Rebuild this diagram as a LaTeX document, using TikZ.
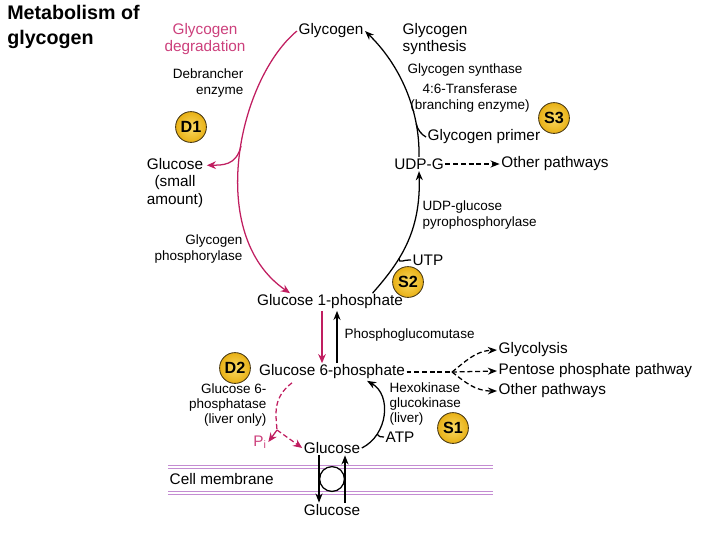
\documentclass[tikz,border=0pt]{standalone}
\usepackage{fontspec}
\setmainfont{Liberation Sans}
\usepackage{xcolor}
\usepackage{tikz}
\usetikzlibrary{arrows.meta, calc}

\definecolor{degrline}{RGB}{192,30,96}
\definecolor{degrtxt}{RGB}{204,64,124}
\definecolor{badgefill}{RGB}{232,176,20}
\definecolor{badgelight}{RGB}{250,218,100}
\definecolor{badgeedge}{RGB}{70,55,20}
\definecolor{membcol}{RGB}{196,140,210}

\begin{document}
\begin{tikzpicture}[x=0.025cm, y=-0.025cm]
	% Styles
	\tikzstyle{lbl} = [inner sep=1pt, align=center, font=\fontsize{10.9}{12.7}\selectfont]
	\tikzstyle{enz} = [inner sep=1pt, font=\fontsize{9.6}{10.8}\selectfont]
	\tikzstyle{badge} = [circle, draw=badgeedge, line width=0.6pt, inner color=badgelight, outer color=badgefill, minimum size=0.77cm, inner sep=0pt, font=\fontsize{11.5}{12}\selectfont\bfseries]
	\tikzstyle{arrow} = [line width=0.9pt,->,>={Stealth[length=6.5pt,width=5pt]}]
	\tikzstyle{degarrow} = [line width=0.9pt,->,>={Stealth[length=6.5pt,width=5.5pt]}, draw=degrline]
	\tikzstyle{dashline} = [dash pattern=on 3.5pt off 2pt]
	\tikzstyle{memb} = [draw=membcol, line width=0.6pt]

	\useasboundingbox (0,0) rectangle (720,540);

	% Title
	\node (title) [anchor=west, align=left, inner sep=0pt, font=\fontsize{14}{17.7}\selectfont\bfseries] at (7,27) {Metabolism of\\glycogen};

	% Main pathway
	\node (glycogen) [lbl] at (331,31) {Glycogen};
	\node (gonep) [lbl] at (330,302) {Glucose 1-phosphate};
	\node (gsixp) [lbl] at (332,372) {Glucose 6-phosphate};
	\node (glucose) [lbl] at (332,448) {Glucose};
	\node (glucoseout) [lbl] at (332,510) {Glucose};
	\node (udpg) [lbl] at (419,164) {UDP-G};

	% Degradation side
	\node (degr) [lbl, text=degrtxt] at (205,39) {Glycogen\\degradation};
	\node (debr) [enz, align=right, anchor=east] at (245,83) {Debrancher\\enzyme};
	\node (done) [badge] at (191,127) {D1};
	\node (glcsmall) [lbl] at (175,183) {Glucose\\(small\\amount)};
	\node (phos) [enz, align=right, anchor=east] at (244,249) {Glycogen\\phosphorylase};
	\node (dtwo) [badge] at (235,368) {D2};
	\node (gsixpase) [enz, align=right, anchor=east] at (268,405) {Glucose 6-\\phosphatase\\(liver only)};
	\node (pi) [lbl, text=degrtxt] at (260,442) {P\textsubscript{i}};

	% Synthesis side
	\node (synth) [lbl, align=left, anchor=west] at (401,39) {Glycogen\\synthesis};
	\node (gsyn) [enz, anchor=west] at (406,70) {Glycogen synthase};
	\node (transf) [enz, align=center] at (470,98) {4:6-Transferase\\(branching enzyme)};
	\node (sthree) [badge] at (554,118) {S3};
	\node (primer) [lbl, anchor=west] at (426,137) {Glycogen primer};
	\node (otherA) [lbl] at (555,164) {Other pathways};
	\node (udpgpp) [enz, align=left, anchor=west] at (421,215) {UDP-glucose\\pyrophosphorylase};
	\node (utp) [lbl] at (428,260) {UTP};
	\node (stwo) [badge] at (408,282) {S2};
	\node (mutase) [enz, anchor=west] at (343,335) {Phosphoglucomutase};
	\node (hexo) [enz, align=left, anchor=west] at (388,404) {Hexokinase\\glucokinase\\(liver)};
	\node (atp) [lbl] at (400,437) {ATP};
	\node (sone) [badge] at (453,428) {S1};
	\node (glycol) [lbl, anchor=west] at (497,350) {Glycolysis};
	\node (pentose) [lbl, anchor=west] at (497,371) {Pentose phosphate pathway};
	\node (otherB) [lbl, anchor=west] at (497,391) {Other pathways};

	% Membrane
	\node (membr) [lbl, anchor=west] at (168,479) {Cell membrane};
	\draw[memb] (168,465) -- (493,465);
	\draw[memb] (168,468) -- (493,468);
	\draw[memb] (168,491) -- (493,491);
	\draw[memb] (168,494) -- (493,494);
	\node (carrier) [circle, draw, line width=0.9pt, fill=white, minimum size=0.62cm, inner sep=0pt] at (332,479) {};

	% Degradation connections
	\draw[degarrow] (glycogen.west) .. controls (238,80) and (205,235) .. ($(gonep.north)+(-40,0)$) coordinate[pos=0.46] (brk);
	\draw[degarrow] (brk) .. controls (236,166) and (222,165) .. ($(glcsmall.north east)+(2,9)$);
	\draw[degarrow] ($(gonep.south)+(-8,0)$) -- ($(gsixp.north)+(-10,0)$);
	\coordinate (pisplit) at (277,430);
	\draw[degrline, line width=0.9pt, dashline] ($(gsixp.south)+(-40,2)$) .. controls (272,398) and (276,415) .. (pisplit);
	\draw[degarrow] (pisplit) -- (pi.east);
	\draw[degarrow, dashline] (pisplit) -- (glucose.west);

	% Synthesis connections
	\draw[arrow] ($(gsixp.north)+(5,0)$) -- ($(gonep.south)+(7,0)$);
	\draw[arrow] ($(gonep.north east)+(-32,0)$) .. controls (400,262) and (421,232) .. (udpg.south) coordinate[pos=0.36] (utpj);
	\draw[line width=0.9pt] (utp.west) .. controls +(-7,-1) and +(0,6) .. (utpj);
	\draw[arrow] (udpg.north) .. controls (420,110) and (400,65) .. (glycogen.east) coordinate[pos=0.24] (primj);
	\draw[line width=0.9pt] (primer.west) .. controls +(-4,-2) and +(1,6) .. (primj);
	\draw[arrow] (glucose.east) .. controls (388,435) and (392,395) .. ($(gsixp.south)+(35,0)$) coordinate[pos=0.25] (atpj);
	\draw[line width=0.9pt] (atp.west) .. controls +(-3,0) and +(2,3) .. (atpj);

	% Other pathways
	\draw[arrow, dashline] (udpg.east) -- (otherA.west);
	\coordinate (fan) at (452,372);
	\draw[line width=0.9pt, dashline] (gsixp.east) -- (fan);
	\draw[arrow, dashline] (fan) .. controls (465,362) and (475,351) .. (glycol.west);
	\draw[arrow, dashline] (fan) -- (pentose.west);
	\draw[arrow, dashline] (fan) .. controls (465,382) and (475,391) .. (otherB.west);

	% Transport across membrane
	\draw[arrow] ($(glucose.south)+(-13,0)$) -- ($(glucoseout.north)+(-13,0)$);
	\draw[arrow] ($(glucoseout.north)+(13,0)$) -- ($(glucose.south)+(13,0)$);

\end{tikzpicture}
\end{document}
